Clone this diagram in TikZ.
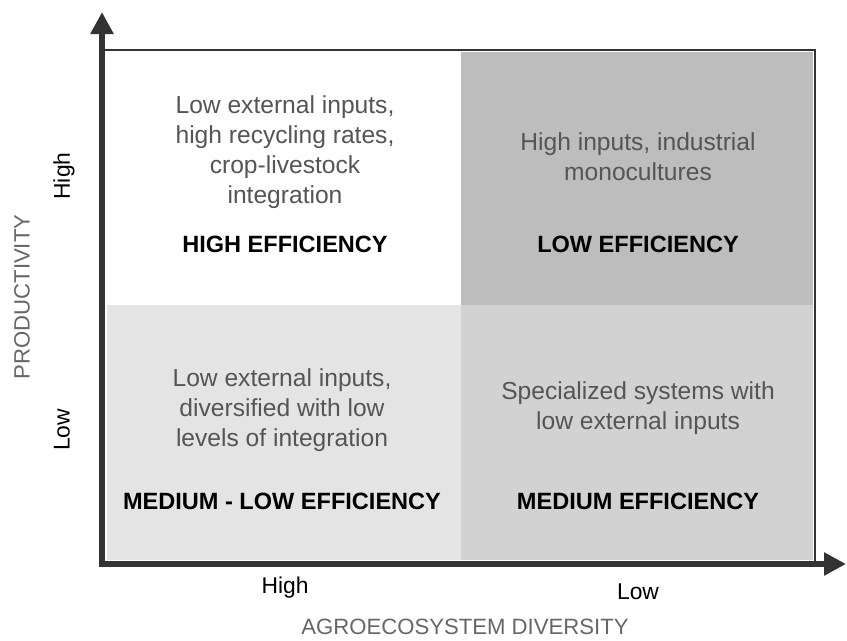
\documentclass[tikz,border=0pt]{standalone}
\usepackage{fontspec}
\setmainfont{Liberation Sans}
\usetikzlibrary{arrows.meta}
\definecolor{axisgray}{HTML}{333333}
\definecolor{descgray}{HTML}{555555}
\definecolor{titlegray}{HTML}{666666}
\definecolor{cellhh}{HTML}{FFFFFF}
\definecolor{celllh}{HTML}{BDBDBD}
\definecolor{cellhl}{HTML}{E4E4E4}
\definecolor{cellll}{HTML}{D2D2D2}
\tikzstyle{axis}=[line width=3.4pt,draw=axisgray,-{Triangle[length=4.4mm,width=4.4mm]}]
\tikzstyle{frame}=[line width=1.4pt,draw=axisgray]
\tikzstyle{desc}=[align=center,text=descgray,font=\fontsize{14}{17}\selectfont]
\tikzstyle{level}=[font=\fontsize{13.4}{15}\selectfont\bfseries,text=black]
\tikzstyle{tick}=[font=\fontsize{13}{15}\selectfont,text=black]
\tikzstyle{title}=[font=\fontsize{12.6}{15}\selectfont,text=titlegray]

\begin{document}
\begin{tikzpicture}[x=0.2mm,y=-0.2mm]
  \useasboundingbox (0,0) rectangle (847,640);
  % quadrants
  \fill[cellhh] (107,52) rectangle (461,305);
  \fill[celllh] (461,52) rectangle (813,305);
  \fill[cellhl] (107,305) rectangle (461,560);
  \fill[cellll] (461,305) rectangle (813,560);
  % frame and axes
  \coordinate (origin) at (102,564);
  \coordinate (ytip) at (102,12);
  \coordinate (xtip) at (846,564);
  \coordinate (topleft) at (102,50);
  \coordinate (topright) at (815,50);
  \coordinate (botright) at (815,564);
  \draw[frame] (topleft) -- (topright) -- (botright);
  \draw[axis] (102,567) -- (ytip);
  \draw[axis] (origin) -- (xtip);
  % quadrant texts
  \node[desc] (hhdesc) at (285,152) {Low external inputs,\\high recycling rates,\\crop-livestock\\integration};
  \node[level] (hhlevel) at (285,244) {HIGH EFFICIENCY};
  \node[desc] (lhdesc) at (638,157) {High inputs, industrial\\monocultures};
  \node[level] (lhlevel) at (638,244) {LOW EFFICIENCY};
  \node[desc] (hldesc) at (282,410) {Low external inputs,\\diversified with low\\levels of integration};
  \node[level] (hllevel) at (282,501) {MEDIUM - LOW EFFICIENCY};
  \node[desc] (lldesc) at (638,408) {Specialized systems with\\low external inputs};
  \node[level] (lllevel) at (638,501) {MEDIUM EFFICIENCY};
  % axis labels
  \node[tick,rotate=90] (yhigh) at (64,176) {High};
  \node[tick,rotate=90] (ylow) at (62,430) {Low};
  \node[title,rotate=90] (ytitle) at (22,297) {PRODUCTIVITY};
  \node[tick] (xhigh) at (285,588) {High};
  \node[tick] (xlow) at (638,592) {Low};
  \node[title] (xtitle) at (465,627) {AGROECOSYSTEM DIVERSITY};
\end{tikzpicture}
\end{document}
